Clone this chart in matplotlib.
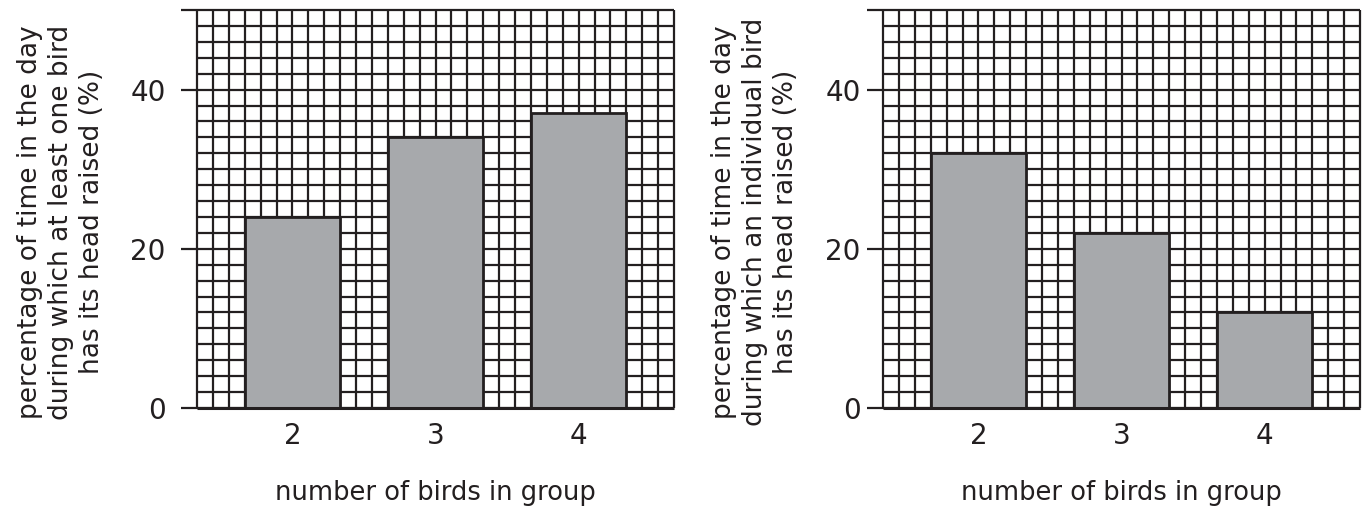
import numpy as np
import matplotlib
matplotlib.use('Agg')
import matplotlib.pyplot as plt

plt.rcParams['font.family'] = ['DejaVu Sans']

group_sizes = ['2', '3', '4']
at_least_one = [24, 34, 37]
individual = [32, 22, 12]
y_ticks = [0, 20, 40]

left_label = 'percentage of time in the day\nduring which at least one bird\nhas its head raised (%)'
right_label = 'percentage of time in the day\nduring which an individual bird\nhas its head raised (%)'
x_label = 'number of birds in group'

W, H = 1370, 518
fig = plt.figure(figsize=(W / 100, H / 100), dpi=100)
fig.patch.set_facecolor('white')

LINE = '#231f20'
BAR = '#a7a9ac'


def draw_panel(left_px, values, ylabel, tick_pad, label_x):
    ax = fig.add_axes([left_px / W, (H - 408) / H, 477 / W, 398 / H])
    ax.set_xlim(0, 30)
    ax.set_ylim(0, 50)
    for s in ax.spines.values():
        s.set_visible(False)

    # graph paper
    ax.vlines(np.arange(0, 31), 0, 50, color=LINE, lw=1.6, zorder=1,
              clip_on=False)
    ax.hlines(np.arange(0, 51, 2), 0, 30, color=LINE, lw=1.6, zorder=1,
              clip_on=False)
    ax.hlines([0], 0, 30, color=LINE, lw=2.2, zorder=3, clip_on=False)

    centers = [6 + 9 * i for i in range(len(values))]
    ax.bar(centers, values, width=6, color=BAR, edgecolor=LINE,
           linewidth=2, zorder=2)

    ax.set_yticks(y_ticks + [50])
    ax.set_yticklabels([str(t) for t in y_ticks] + [''], fontsize=20)
    ax.tick_params(axis='y', length=11.5, width=1.6, color=LINE,
                   pad=tick_pad, labelcolor=LINE)
    ax.set_xticks(centers)
    ax.set_xticklabels(group_sizes, fontsize=20)
    ax.tick_params(axis='x', length=0, pad=10, labelcolor=LINE)

    ax.set_ylabel(ylabel, fontsize=19, color=LINE, linespacing=1.25)
    ax.yaxis.label.set_va('center')
    ax.yaxis.set_label_coords(label_x, 0.467)
    ax.set_xlabel(x_label, fontsize=18.5, color=LINE)
    ax.xaxis.label.set_va('center')
    ax.xaxis.set_label_coords(0.5, -0.2136)
    return ax


draw_panel(197, at_least_one, left_label, 11, -0.285)
draw_panel(883, individual, right_label, 4.5, -0.268)

fig.savefig('out.png', dpi=100)
